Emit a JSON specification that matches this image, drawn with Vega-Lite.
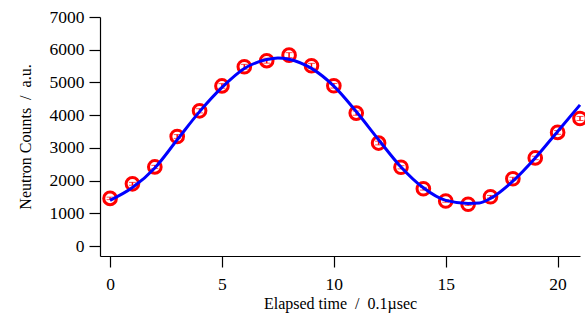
{
  "$schema": "https://vega.github.io/schema/vega-lite/v6.json",
  "width": 480,
  "height": 239,
  "autosize": "none",
  "padding": {"left": 100, "top": 17, "right": 5, "bottom": 64},
  "background": "white",
  "config": {
    "view": {"stroke": null},
    "font": "Liberation Serif",
    "axis": {
      "grid": false,
      "domainColor": "black",
      "tickColor": "black",
      "labelColor": "black",
      "titleColor": "black",
      "labelFont": "Liberation Serif",
      "titleFont": "Liberation Serif",
      "labelFontSize": 17.5,
      "titleFontSize": 16,
      "titleFontWeight": "normal",
      "domainWidth": 1.2,
      "tickWidth": 1.2,
      "tickSize": 11,
      "format": "d"
    }
  },
  "datasets": {
    "pts": [
      {"t": 0, "counts": 1460, "lo": 1422, "hi": 1498},
      {"t": 1, "counts": 1905, "lo": 1861, "hi": 1949},
      {"t": 2, "counts": 2420, "lo": 2371, "hi": 2469},
      {"t": 3, "counts": 3350, "lo": 3292, "hi": 3408},
      {"t": 4, "counts": 4135, "lo": 4071, "hi": 4199},
      {"t": 5, "counts": 4895, "lo": 4825, "hi": 4965},
      {"t": 6, "counts": 5480, "lo": 5406, "hi": 5554},
      {"t": 7, "counts": 5665, "lo": 5590, "hi": 5740},
      {"t": 8, "counts": 5835, "lo": 5759, "hi": 5911},
      {"t": 9, "counts": 5510, "lo": 5436, "hi": 5584},
      {"t": 10, "counts": 4900, "lo": 4830, "hi": 4970},
      {"t": 11, "counts": 4065, "lo": 4001, "hi": 4129},
      {"t": 12, "counts": 3150, "lo": 3094, "hi": 3206},
      {"t": 13, "counts": 2410, "lo": 2361, "hi": 2459},
      {"t": 14, "counts": 1755, "lo": 1713, "hi": 1797},
      {"t": 15, "counts": 1380, "lo": 1343, "hi": 1417},
      {"t": 16, "counts": 1280, "lo": 1244, "hi": 1316},
      {"t": 17, "counts": 1510, "lo": 1471, "hi": 1549},
      {"t": 18, "counts": 2060, "lo": 2015, "hi": 2105},
      {"t": 19, "counts": 2695, "lo": 2643, "hi": 2747},
      {"t": 20, "counts": 3475, "lo": 3416, "hi": 3534},
      {"t": 21, "counts": 3900, "lo": 3838, "hi": 3962}
    ],
    "fit": [
      {"t": 0, "counts": 1400},
      {"t": 1, "counts": 1790},
      {"t": 2, "counts": 2390},
      {"t": 3, "counts": 3250},
      {"t": 4, "counts": 4110},
      {"t": 5, "counts": 4850},
      {"t": 6, "counts": 5430},
      {"t": 7, "counts": 5700},
      {"t": 7.5, "counts": 5750},
      {"t": 8, "counts": 5710},
      {"t": 9, "counts": 5430},
      {"t": 10, "counts": 4890},
      {"t": 11, "counts": 4113},
      {"t": 12, "counts": 3252},
      {"t": 13, "counts": 2420},
      {"t": 14, "counts": 1783},
      {"t": 15, "counts": 1398},
      {"t": 16, "counts": 1307},
      {"t": 16.5, "counts": 1320},
      {"t": 17, "counts": 1459},
      {"t": 18, "counts": 1986},
      {"t": 19, "counts": 2695},
      {"t": 20, "counts": 3505},
      {"t": 21, "counts": 4316}
    ]
  },
  "encoding": {
    "x": {
      "field": "t", "type": "quantitative",
      "scale": {"domain": [-0.45, 21], "nice": false, "zero": false},
      "axis": {"values": [0, 5, 10, 15, 20], "title": "Elapsed time \u00a0/\u00a0 0.1µsec", "labelPadding": 8, "titlePadding": 3}
    },
    "y": {
      "field": "counts", "type": "quantitative",
      "scale": {"domain": [-300, 7000], "nice": false, "zero": false},
      "axis": {"values": [0, 1000, 2000, 3000, 4000, 5000, 6000, 7000], "title": "Neutron Counts \u00a0/\u00a0 a.u.", "labelPadding": 5, "titlePadding": 16}
    }
  },
  "layer": [
    {
      "data": {"name": "pts"},
      "mark": {"type": "point", "shape": "circle", "filled": false, "stroke": "#ff0000", "strokeWidth": 3, "size": 160, "opacity": 1, "clip": false}
    },
    {
      "data": {"name": "pts"},
      "mark": {"type": "errorbar", "color": "#ff0000", "ticks": {"size": 7, "color": "#ff0000", "strokeWidth": 1.5}, "rule": {"strokeWidth": 1.5}},
      "encoding": {
        "y": {"field": "lo", "type": "quantitative"},
        "y2": {"field": "hi"}
      }
    },
    {
      "data": {"name": "fit"},
      "mark": {"type": "line", "color": "#0000ff", "strokeWidth": 3, "interpolate": "monotone"}
    }
  ]
}
